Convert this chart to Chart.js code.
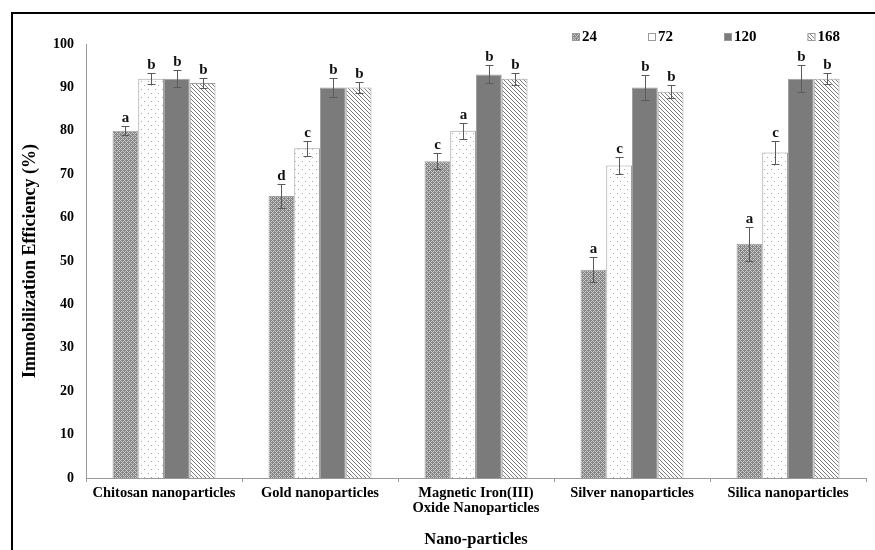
<!DOCTYPE html>
<html>
<head>
<meta charset="utf-8">
<script src="https://cdn.jsdelivr.net/npm/chart.js@4"></script>
<style>
    html, body { margin: 0; padding: 0; background: #fff; overflow: hidden; }
    #wrap { position: relative; width: 875px; height: 550px; }
    #frame {
        position: absolute; left: 11px; top: 12px; right: -5px; bottom: -5px;
        border-left: 2px solid #000; border-top: 2px solid #000; pointer-events: none;
    }
</style>
</head>
<body>
<div id="wrap">
    <canvas id="immobChart" width="875" height="550"></canvas>
    <div id="frame"></div>
</div>
<script>
const categories = [
    "Chitosan nanoparticles",
    "Gold nanoparticles",
    ["Magnetic Iron(III)", "Oxide Nanoparticles"],
    "Silver nanoparticles",
    "Silica nanoparticles"
];
const seriesNames = ["24", "72", "120", "168"];

const values24 = [80, 65, 73, 48, 54];
const values72 = [92, 76, 80, 72, 75];
const values120 = [92, 90, 93, 90, 92];
const values168 = [91, 90, 92, 89, 92];

const errors24 = [1.0, 2.7, 1.8, 2.9, 3.9];
const errors72 = [1.3, 1.7, 1.9, 2.0, 2.6];
const errors120 = [1.9, 2.1, 2.1, 2.8, 3.1];
const errors168 = [1.2, 1.3, 1.4, 1.5, 1.3];

const letters24 = ["a", "d", "c", "a", "a"];
const letters72 = ["b", "c", "a", "c", "c"];
const letters120 = ["b", "b", "b", "b", "b"];
const letters168 = ["b", "b", "b", "b", "b"];

const serif = "'Liberation Serif', 'Times New Roman', serif";

// small tiles used as bar fills
function makePattern(kind) {
    const c = document.createElement("canvas");
    const g = c.getContext("2d");
    if (kind === "cross") {
        c.width = c.height = 4;
        g.fillStyle = "#858585";
        g.fillRect(0, 0, 4, 4);
        g.fillStyle = "#c9c9c9";
        for (let x = 0; x < 4; x++) {
            for (let y = 0; y < 4; y++) {
                if ((x + y) % 4 === 0 || (x - y + 4) % 4 === 0) g.fillRect(x, y, 1, 1);
            }
        }
    } else if (kind === "dots") {
        c.width = 7; c.height = 8;
        g.fillStyle = "#fff";
        g.fillRect(0, 0, 7, 8);
        g.fillStyle = "#a8a8a8";
        g.fillRect(1, 1, 1, 1);
        g.fillRect(4, 5, 1, 1);
    } else if (kind === "diag") {
        c.width = c.height = 4;
        g.fillStyle = "#fff";
        g.fillRect(0, 0, 4, 4);
        g.fillStyle = "#7a7a7a";
        for (let x = 0; x < 4; x++) g.fillRect(x, x, 1, 1);
    }
    return g.createPattern(c, "repeat");
}

const fills = [makePattern("cross"), makePattern("dots"), "#7b7b7b", makePattern("diag")];
const allValues = [values24, values72, values120, values168];
const allErrors = [errors24, errors72, errors120, errors168];
const allLetters = [letters24, letters72, letters120, letters168];

// error bars + significance letters
const errorBars = {
    id: "errorBars",
    afterDatasetsDraw(chart) {
        const ctx = chart.ctx;
        const y = chart.scales.y;
        ctx.save();
        chart.data.datasets.forEach((ds, i) => {
            chart.getDatasetMeta(i).data.forEach((bar, j) => {
                const x = Math.round(bar.x) + 0.5;
                const top = Math.round(y.getPixelForValue(ds.data[j] + ds.errors[j])) + 0.5;
                const bottom = Math.round(y.getPixelForValue(ds.data[j] - ds.errors[j])) + 0.5;
                ctx.strokeStyle = "#5a5a5a";
                ctx.lineWidth = 1;
                ctx.beginPath();
                ctx.moveTo(x, top); ctx.lineTo(x, bottom);
                ctx.moveTo(x - 4, top); ctx.lineTo(x + 4, top);
                ctx.moveTo(x - 4, bottom); ctx.lineTo(x + 4, bottom);
                ctx.stroke();
                ctx.fillStyle = "#111";
                ctx.font = "bold 15px " + serif;
                ctx.textAlign = "center";
                ctx.textBaseline = "bottom";
                ctx.fillText(ds.letters[j], x, top - 1);
            });
        });
        ctx.restore();
    }
};

// legend drawn by hand so the items can sit far apart
const legendBoxes = {
    id: "legendBoxes",
    afterDraw(chart) {
        const ctx = chart.ctx;
        ctx.save();
        ctx.font = "bold 15px " + serif;
        ctx.textBaseline = "middle";
        ctx.textAlign = "left";
        let x = 572;
        const yc = 37;
        chart.data.datasets.forEach(ds => {
            ctx.fillStyle = ds.backgroundColor;
            ctx.fillRect(x, yc - 4, 7, 7);
            ctx.strokeStyle = "#999";
            ctx.lineWidth = 1;
            ctx.strokeRect(x + 0.5, yc - 3.5, 7, 7);
            ctx.fillStyle = "#000";
            ctx.fillText(ds.label, x + 10, yc);
            x += 10 + ctx.measureText(ds.label).width + 51;
        });
        ctx.restore();
    }
};

const immobChart = new Chart(document.querySelector("#immobChart").getContext("2d"), {
    type: "bar",
    data: {
        labels: categories,
        datasets: seriesNames.map((name, i) => ({
            label: name,
            data: allValues[i],
            errors: allErrors[i],
            letters: allLetters[i],
            backgroundColor: fills[i],
            borderColor: "#a0a0a0",
            borderWidth: 1,
            categoryPercentage: 0.66,
            barPercentage: 1
        }))
    },
    options: {
        responsive: false,
        animation: false,
        devicePixelRatio: 1,
        layout: { padding: { top: 44, right: 9, left: 0, bottom: 0 } },
        plugins: {
            legend: { display: false },
            tooltip: { enabled: false }
        },
        scales: {
            x: {
                grid: { display: true, drawOnChartArea: false, offset: true, tickLength: 4, color: "#999" },
                border: { color: "#999" },
                ticks: {
                    color: "#000",
                    padding: 4,
                    maxRotation: 0,
                    autoSkip: false,
                    font: { family: serif, size: 14.5, weight: "bold", lineHeight: 1.0 }
                },
                title: {
                    display: true,
                    text: "Nano-particles",
                    color: "#000",
                    padding: 0,
                    font: { family: serif, size: 16.5, weight: "bold" }
                },
                afterFit: s => { s.height = 72; }
            },
            y: {
                min: 0,
                max: 100,
                grid: { display: false, drawTicks: false },
                border: { display: true, color: "#999" },
                ticks: {
                    stepSize: 10,
                    color: "#000",
                    padding: 12,
                    font: { family: serif, size: 14, weight: "bold" }
                },
                title: {
                    display: true,
                    text: "Immobilization Efficiency (%)",
                    color: "#000",
                    padding: { top: 20, bottom: 0 },
                    font: { family: serif, size: 18, weight: "bold" }
                },
                afterFit: s => { s.width = 86; }
            }
        }
    },
    plugins: [errorBars, legendBoxes]
});
</script>
</body>
</html>
